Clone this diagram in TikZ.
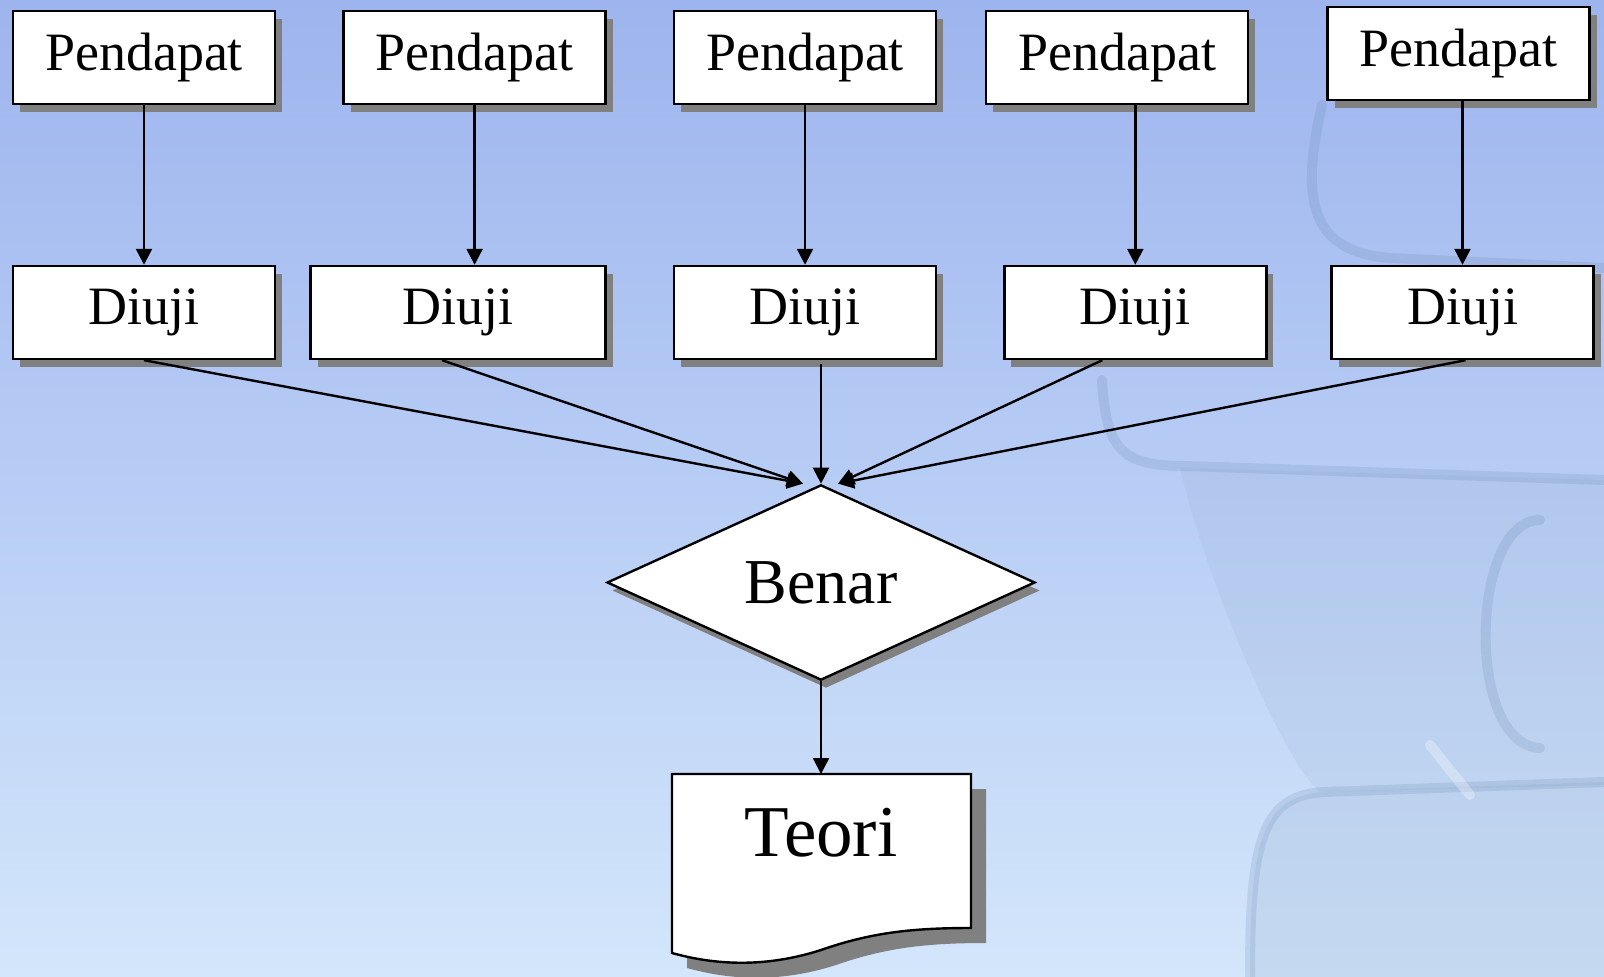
\documentclass[tikz,border=0pt]{standalone}
\usepackage{fontspec}
\setmainfont{Liberation Serif}
\usetikzlibrary{arrows.meta, shapes.geometric, shadows, calc}

\definecolor{bgtop}{HTML}{9DB4EE}
\definecolor{bgbot}{HTML}{D3E6FB}
\definecolor{bookline}{HTML}{5F7FA8}
\definecolor{bookbody}{HTML}{8FA9C8}

\tikzset{
  box/.style={draw, fill=white, line width=1.2pt, minimum width=131pt, minimum height=46.5pt,
    inner sep=0pt, font=\fontsize{27}{31}\selectfont,
    drop shadow={shadow xshift=3.5pt, shadow yshift=-4pt, fill=black!50, opacity=1}},
  decide/.style={diamond, draw, fill=white, line width=1.2pt, minimum width=214pt, minimum height=93.5pt,
    inner sep=0pt, font=\fontsize{32}{36}\selectfont,
    drop shadow={shadow xshift=2.5pt, shadow yshift=-4pt, fill=black!50, opacity=1}},
  flow/.style={line width=1.2pt, -{Triangle[length=8pt,width=8pt]}},
  bookedge/.style={draw=bookline, line width=5pt, opacity=0.18, line cap=round},
}

\begin{document}
\begin{tikzpicture}[x=0.5pt, y=-0.5pt]
  % background with the faint books
  \useasboundingbox (0,0) rectangle (1604,977);
  \shade[top color=bgtop, bottom color=bgbot] (0,0) rectangle (1604,977);
  \fill[bookbody, opacity=0.15] (1180,468) -- (1604,480) -- (1604,785) -- (1320,792)
    .. controls (1280,760) and (1200,560) .. (1180,468) -- cycle;
  \fill[bookbody, opacity=0.2] (1320,792) -- (1604,782) -- (1604,977) -- (1250,977)
    .. controls (1250,840) and (1262,800) .. (1320,792) -- cycle;
  \draw[bookedge] (1322,105) .. controls (1300,200) and (1310,252) .. (1390,258) -- (1604,268);
  \draw[bookedge] (1102,380) .. controls (1106,450) and (1122,466) .. (1185,466) -- (1604,480);
  \draw[bookedge] (1250,977) .. controls (1250,840) and (1262,795) .. (1325,792) -- (1604,782);
  \draw[bookedge] (1540,520) .. controls (1470,520) and (1465,745) .. (1540,748);
  \draw[bookedge, draw=white, opacity=0.3] (1430,745) -- (1470,795);

  % document shape for the theory
  \fill[black!50, shift={(15,15)}] (672,774) -- (971,774) -- (971,928)
    .. controls (910,928) and (870,933) .. (821,950)
    .. controls (765,968) and (715,965) .. (672,953) -- cycle;
  \draw[fill=white, line width=1.2pt] (672,774) -- (971,774) -- (971,928)
    .. controls (910,928) and (870,933) .. (821,950)
    .. controls (765,968) and (715,965) .. (672,953) -- cycle;
  \coordinate (Ttop) at (821,774);
  \node[inner sep=0pt, font=\fontsize{36.5}{40}\selectfont] (T) at (821,833) {Teori};

  % opinions and tests
  \node[box] (P1) at (144,57.5) {Pendapat};
  \node[box] (P2) at (474.6,57.5) {Pendapat};
  \node[box] (P3) at (805,57.5) {Pendapat};
  \node[box] (P4) at (1117,57.5) {Pendapat};
  \node[box] (P5) at (1458.5,53.5) {Pendapat};

  \node[box] (D1) at (144,312.5) {Diuji};
  \node[box, minimum width=147.5pt] (D2) at (458,312.5) {Diuji};
  \node[box] (D3) at (805,312.5) {Diuji};
  \node[box] (D4) at (1135.3,312.5) {Diuji};
  \node[box] (D5) at (1462.5,312.5) {Diuji};

  \node[decide] (B) at (821,582.5) {Benar};
  \coordinate (BL) at ([xshift=-9pt]B.north);
  \coordinate (BR) at ([xshift=8.5pt]B.north);

  \draw[flow] (P1) -- (D1);
  \draw[flow] (P2.south) -- (P2.south |- D2.north);
  \draw[flow] (P3) -- (D3);
  \draw[flow] (D4.north |- P4.south) -- (D4.north);
  \draw[flow] (D5.north |- P5.south) -- (D5.north);

  \draw[flow] (D1.south) -- (BL);
  \draw[flow] ([xshift=-8pt]D2.south) -- (BL);
  \draw[flow] ($(D3.south -| B.north)+(0,4)$) -- (B.north);
  \draw[flow] ([xshift=-16.5pt]D4.south) -- (BR);
  \draw[flow] ([xshift=1.5pt]D5.south) -- (BR);
  \draw[flow] (B.south) -- (Ttop);

\end{tikzpicture}
\end{document}
